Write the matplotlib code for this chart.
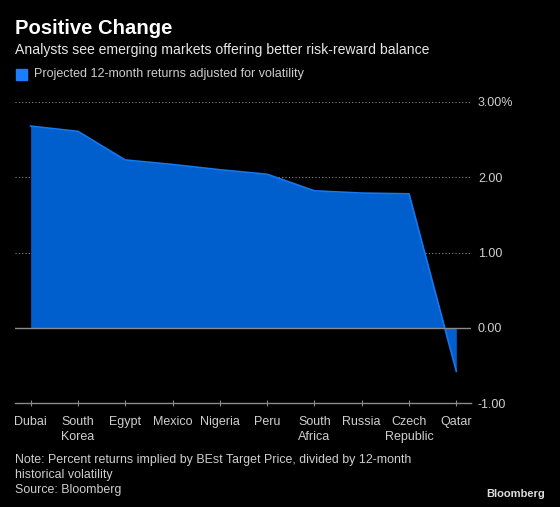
import matplotlib.pyplot as plt
from matplotlib.patches import Rectangle

countries = ["Dubai", "South\nKorea", "Egypt", "Mexico", "Nigeria", "Peru",
             "South\nAfrica", "Russia", "Czech\nRepublic", "Qatar"]
returns = [2.68, 2.61, 2.23, 2.17, 2.10, 2.04, 1.82, 1.79, 1.78, -0.58]
y_ticks = [-1, 0, 1, 2, 3]
y_labels = ["-1.00", "0.00", "1.00", "2.00", "3.00%"]

bg = "black"
fill_col = "#005ecd"
edge_col = "#1478f0"
grid_col = "#8a8a8a"
txt_col = "#cfcfcf"

plt.rcParams["font.family"] = ["Liberation Sans", "DejaVu Sans"]

fig = plt.figure(figsize=(5.6, 5.07), dpi=100, facecolor=bg)
ax = fig.add_axes([15 / 560, 1 - 403 / 507, 456 / 560, 301 / 507], facecolor=bg)

x = list(range(len(countries)))
ax.fill_between(x, returns, 0, color=fill_col, lw=0, zorder=2)
ax.plot(x, returns, color=edge_col, lw=1.2, zorder=3)

ax.set_xlim(-0.33, 9.31)
ax.set_ylim(-1, 3)

for t in y_ticks:
    if t == 0:
        ax.axhline(t, color=grid_col, lw=1, zorder=4)
    elif t > -1:
        ax.axhline(t, color=grid_col, lw=0.8, ls=(0, (1, 2)), zorder=1)

for s in ["top", "right", "left"]:
    ax.spines[s].set_visible(False)
ax.spines["bottom"].set_color(grid_col)
ax.spines["bottom"].set_linewidth(1)

ax.set_xticks(x)
ax.set_xticklabels(countries, color=txt_col, fontsize=9, linespacing=1.35,
                   va="top")
ax.tick_params(axis="x", direction="inout", length=5, color=grid_col, pad=7)
ax.yaxis.tick_right()
ax.set_yticks(y_ticks)
ax.set_yticklabels(y_labels, color=txt_col, fontsize=9)
ax.tick_params(axis="y", length=0, pad=5)

fig.text(15 / 560, 1 - 28 / 507, "Positive Change", color="white",
         fontsize=14.6, fontweight="bold", va="center")
fig.text(15 / 560, 1 - 50 / 507,
         "Analysts see emerging markets offering better risk-reward balance",
         color="#e6e6e6", fontsize=10.1, va="center")
fig.patches.append(Rectangle((16 / 560, 1 - 80 / 507), 11 / 560, 11 / 507,
                             transform=fig.transFigure, color="#1a7cff"))
fig.text(34 / 560, 1 - 74 / 507,
         "Projected 12-month returns adjusted for volatility",
         color=txt_col, fontsize=9, va="center")

fig.text(15 / 560, 1 - 475 / 507,
         "Note: Percent returns implied by BEst Target Price, divided by 12-month\n"
         "historical volatility\nSource: Bloomberg",
         color=txt_col, fontsize=8.9, va="center", linespacing=1.32)
fig.text(545 / 560, 1 - 494 / 507, "Bloomberg", color="#dddddd",
         fontsize=8, fontweight="bold", ha="right", va="center")

fig.savefig("out.png", dpi=100, facecolor=bg)
